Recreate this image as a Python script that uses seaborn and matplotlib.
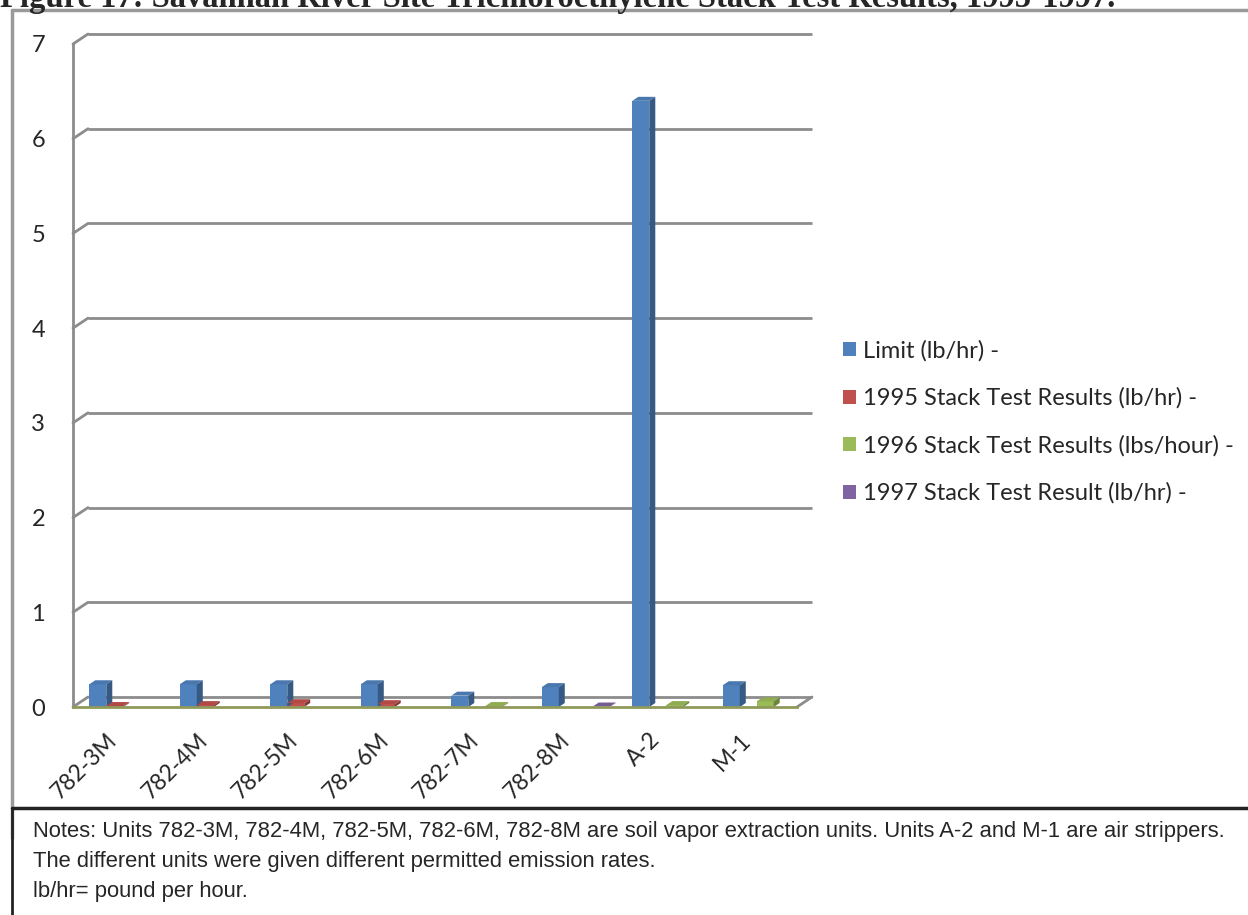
import numpy as np
import pandas as pd
import matplotlib
matplotlib.use("Agg")
import matplotlib.pyplot as plt
import matplotlib.colors as mcolors
import seaborn as sns
from matplotlib.patches import Polygon, Patch
from matplotlib.lines import Line2D
from matplotlib.transforms import ScaledTranslation, IdentityTransform

# Data
units = ["782-3M", "782-4M", "782-5M", "782-6M", "782-7M", "782-8M", "A-2", "M-1"]
series = [
    "Limit (lb/hr) -",
    "1995 Stack Test Results (lb/hr) -",
    "1996 Stack Test Results (lbs/hour) -",
    "1997 Stack Test Result (lb/hr) -",
]
limit = [0.24, 0.24, 0.24, 0.24, 0.12, 0.21, 6.4, 0.23]
res_1995 = [0.01, 0.02, 0.04, 0.03, None, None, None, None]
res_1996 = [None, None, None, None, 0.01, None, 0.02, 0.06]
res_1997 = [None, None, None, None, None, 0.005, None, None]
y_ticks = [0, 1, 2, 3, 4, 5, 6, 7]

title = "Figure 17: Savannah River Site Trichloroethylene Stack Test Results, 1995-1997."
notes = [
    "Notes: Units 782-3M, 782-4M, 782-5M, 782-6M, 782-8M are soil vapor extraction units. Units A-2 and M-1 are air strippers.",
    "The different units were given different permitted emission rates.",
    "lb/hr= pound per hour.",
]

colors = ["#4f81bd", "#c0504d", "#9bbb59", "#8064a2"]
grid_col = "#8c8c8c"

rows = []
for s, vals in zip(series, [limit, res_1995, res_1996, res_1997]):
    for u, v in zip(units, vals):
        if v is not None:
            rows.append({"unit": u, "series": s, "value": v})
df = pd.DataFrame(rows)

sns.set_style("white")
plt.rcParams["font.family"] = ["Lato", "DejaVu Sans"]

W, H = 1248, 915
fig = plt.figure(figsize=(W / 100, H / 100), dpi=100)
ax = fig.add_axes([73 / W, 1 - 707 / H, 724 / W, 663 / H])

sns.barplot(data=df, x="unit", y="value", hue="series", order=units,
            hue_order=series, palette=colors, width=0.75, saturation=1,
            linewidth=0, legend=False, ax=ax, zorder=3)

ax.set_xlim(-0.5, 7.5)
ax.set_ylim(0, 7)
ax.set_xlabel("")
ax.set_ylabel("")
for sp in ["top", "right"]:
    ax.spines[sp].set_visible(False)
ax.spines["left"].set_color(grid_col)
ax.spines["left"].set_linewidth(2)
ax.spines["bottom"].set_color("#8f9a5a")
ax.spines["bottom"].set_linewidth(2)
ax.spines["bottom"].set_zorder(4)

ax.set_yticks(y_ticks)
ax.set_yticklabels([str(t) for t in y_ticks])
ax.tick_params(axis="y", length=6, width=2, color=grid_col, labelsize=17, pad=14)
ax.set_xticks(range(len(units)))
ax.set_xticklabels(units, rotation=45, ha="right", rotation_mode="anchor")
ax.tick_params(axis="x", which="major", length=0, labelsize=16.5, pad=16)
ax.set_xticks(np.arange(-0.5, len(units), 1), minor=True)
ax.tick_params(axis="x", which="minor", length=7, width=2, color=grid_col)
shift = ScaledTranslation(-0.12, 0, fig.dpi_scale_trans)
for lbl in ax.get_xticklabels():
    lbl.set_transform(lbl.get_transform() + shift)

# back wall gridlines, shifted to mimic the 3D chart
dx, dy = 15, 10
back = ax.transData + ScaledTranslation(dx / 100, dy / 100, fig.dpi_scale_trans)
ident = IdentityTransform()
for v in y_ticks:
    ax.plot([-0.5, 7.5], [v, v], color=grid_col, lw=2, transform=back,
            clip_on=False, zorder=1, solid_capstyle="butt")
    px, py = ax.transData.transform((-0.5, v))
    ax.plot([px, px + dx], [py, py + dy], color=grid_col, lw=2,
            transform=ident, clip_on=False, zorder=1)
px, py = ax.transData.transform((7.5, 0))
ax.plot([px, px + dx], [py, py + dy], color=grid_col, lw=2,
        transform=ident, clip_on=False, zorder=1)

# depth faces for the bars
bx, by = 6, 4
nudge = ScaledTranslation(0.05, 0, fig.dpi_scale_trans)
for p in ax.patches:
    h = p.get_height()
    if not np.isfinite(h) or h <= 0:
        continue
    p.set_transform(ax.transData + nudge)
    x0, w = p.get_x(), p.get_width()
    base = np.array(mcolors.to_rgb(p.get_facecolor()))
    off = np.array([bx, by])
    b = ax.transData.transform((x0 + w, 0)) + [5, 0]
    c = ax.transData.transform((x0 + w, h)) + [5, 0]
    d = ax.transData.transform((x0, h)) + [5, 0]
    top = Polygon([d, c, c + off, d + off], closed=True, transform=ident,
                  facecolor=base * 0.92, edgecolor="none", zorder=3.5, clip_on=False)
    side = Polygon([b, b + off, c + off, c], closed=True, transform=ident,
                   facecolor=base * 0.7, edgecolor="none", zorder=3.5, clip_on=False)
    ax.add_patch(top)
    ax.add_patch(side)

handles = [Patch(facecolor=c, edgecolor="none") for c in colors]
fig.legend(handles, series, loc="upper left",
           bbox_to_anchor=(843 / W, 1 - 340 / H), frameon=False,
           fontsize=17, handlelength=0.55, handleheight=0.55,
           handletextpad=0.3, labelspacing=1.1, borderpad=0, borderaxespad=0)

# title (cut off at the top like the reference)
fig.text(0.0, 1 - 7 / H, title, ha="left", va="baseline",
         family="Liberation Serif", weight="bold", fontsize=23.5)

# frame lines
fx = 12 / W
fig.add_artist(Line2D([fx, 1], [1 - 10 / H, 1 - 10 / H], color="#9a9a9a", lw=2.5,
                      transform=fig.transFigure))
fig.add_artist(Line2D([fx, fx], [1 - 10 / H, 1 - 838 / H], color="#9a9a9a", lw=2.5,
                      transform=fig.transFigure))
fig.add_artist(Line2D([fx, 1], [1 - 808 / H, 1 - 808 / H], color="#222222", lw=2.5,
                      transform=fig.transFigure))
fig.add_artist(Line2D([fx, fx], [1 - 808 / H, 0], color="#222222", lw=2,
                      transform=fig.transFigure))

for i, line in enumerate(notes):
    fig.text(33 / W, 1 - (832 + 29.5 * i) / H, line, ha="left", va="center",
             family="Liberation Sans", fontsize=15.8)

fig.savefig("out.png", dpi=100)
